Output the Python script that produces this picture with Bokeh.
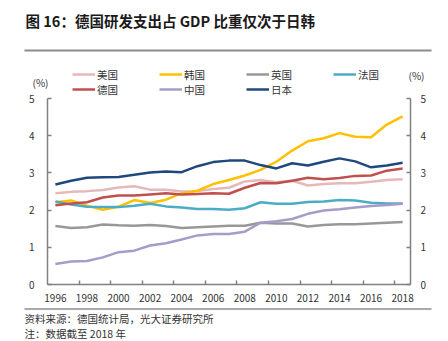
from bokeh.plotting import figure
from bokeh.models import (Range1d, LinearAxis, FixedTicker, Label, Legend, LegendItem,
                          BoxAnnotation, CustomJSTickFormatter)
from bokeh.embed import file_html
from bokeh.resources import INLINE

years = list(range(1996, 2019))
usa = [2.45, 2.49, 2.51, 2.54, 2.61, 2.64, 2.55, 2.55, 2.50, 2.51, 2.57, 2.60,
       2.77, 2.81, 2.75, 2.79, 2.66, 2.70, 2.72, 2.72, 2.76, 2.81, 2.83]
korea = [2.21, 2.26, 2.12, 2.01, 2.09, 2.27, 2.19, 2.28, 2.45, 2.52, 2.70, 2.81,
         2.93, 3.08, 3.30, 3.60, 3.85, 3.93, 4.07, 3.97, 3.96, 4.30, 4.52]
uk = [1.57, 1.52, 1.54, 1.61, 1.59, 1.58, 1.60, 1.57, 1.52, 1.54, 1.56, 1.58,
      1.58, 1.66, 1.64, 1.64, 1.56, 1.60, 1.62, 1.62, 1.64, 1.66, 1.68]
france = [2.23, 2.15, 2.09, 2.08, 2.08, 2.12, 2.17, 2.10, 2.07, 2.03, 2.03, 2.01,
          2.05, 2.21, 2.17, 2.17, 2.22, 2.23, 2.27, 2.26, 2.20, 2.18, 2.18]
germany = [2.13, 2.18, 2.21, 2.34, 2.39, 2.39, 2.42, 2.45, 2.42, 2.43, 2.45, 2.44,
           2.60, 2.73, 2.72, 2.79, 2.87, 2.83, 2.86, 2.92, 2.93, 3.06, 3.12]
china = [0.55, 0.62, 0.63, 0.73, 0.87, 0.91, 1.05, 1.11, 1.21, 1.32, 1.36, 1.36,
         1.42, 1.66, 1.70, 1.76, 1.90, 1.99, 2.02, 2.07, 2.11, 2.14, 2.17]
japan = [2.69, 2.79, 2.87, 2.88, 2.89, 2.95, 3.01, 3.04, 3.02, 3.18, 3.29, 3.33,
         3.33, 3.21, 3.12, 3.26, 3.20, 3.30, 3.39, 3.31, 3.15, 3.20, 3.27]

names = ["美国", "韩国", "英国", "法国", "德国", "中国", "日本"]
values = [usa, korea, uk, france, germany, china, japan]
colors = ["#E6B9B8", "#FFC000", "#989898", "#4BACC6", "#C0504D", "#A99BC9", "#1F497D"]

x_labels = [str(y) for y in range(1996, 2019, 2)]
y_ticks = [0, 1, 2, 3, 4, 5]

title_text = "图 16：德国研发支出占 GDP 比重仅次于日韩"
source_text = "资料来源：德国统计局，光大证券研究所"
note_text = "注：数据截至 2018 年"
unit_text = "(%)"

FONT = "Noto Sans CJK SC"
TXT = "#333333"
AX = "#808080"
W, H = 448, 341

# plot-area placement on the canvas (pixels)
PL, PR, PT, PB = 47, 410, 98, 284
x0, x1 = years[0] - 0.5, years[-1] + 0.5
y0, y1 = y_ticks[0], y_ticks[-1]
ppx = (PR - PL) / (x1 - x0)
ppy = (PB - PT) / (y1 - y0)

p = figure(width=W, height=H, output_backend="svg", toolbar_location=None,
           x_range=Range1d(x0 - PL / ppx, x1 + (W - PR) / ppx),
           y_range=Range1d(y0 - (H - PB) / ppy, y1 + PT / ppy),
           min_border=0, x_axis_location=None, y_axis_location=None)
p.outline_line_color = None
p.xgrid.visible = False
p.ygrid.visible = False
p.background_fill_color = "white"
p.border_fill_color = "white"

renderers = [p.line(years, vals, line_color=col, line_width=2.5)
             for vals, col in zip(values, colors)]


def style_axis(ax, standoff):
    ax.axis_line_color = AX
    ax.axis_line_width = 1.5
    ax.major_tick_line_color = AX
    ax.major_tick_line_width = 1.5
    ax.major_tick_in = 4
    ax.major_tick_out = 0
    ax.minor_tick_line_color = None
    ax.major_label_text_font = FONT
    ax.major_label_text_font_size = "10px"
    ax.major_label_text_color = TXT
    ax.major_label_standoff = standoff


ly = LinearAxis(ticker=FixedTicker(ticks=y_ticks), fixed_location=x0, bounds=(y0, y1))
style_axis(ly, 13)
p.add_layout(ly, "left")
ry = LinearAxis(ticker=FixedTicker(ticks=y_ticks), fixed_location=x1, bounds=(y0, y1))
style_axis(ry, 10)
p.add_layout(ry, "right")

xa = LinearAxis(ticker=FixedTicker(ticks=[int(s) for s in x_labels],
                                   minor_ticks=[y + 0.5 for y in range(1997, 2018, 2)]),
                fixed_location=y0, bounds=(x0, x1))
style_axis(xa, 9)
xa.major_tick_line_color = None
xa.minor_tick_line_color = AX
xa.minor_tick_line_width = 1.5
xa.minor_tick_in = 4
xa.minor_tick_out = 0
xa.formatter = CustomJSTickFormatter(code="return String(Math.round(tick));")
p.add_layout(xa, "below")


def lab(x, y, text, size="10px", bold=False, align="left"):
    p.add_layout(Label(x=x, y=H - y, x_units="screen", y_units="screen", text=text,
                       text_font=FONT, text_font_size=size,
                       text_color="#1a1a1a" if bold else TXT,
                       text_font_style="bold" if bold else "normal",
                       text_baseline="middle", text_align=align))


def rule(xa_, xb_, ya_, yb_, color):
    p.add_layout(BoxAnnotation(left=xa_, right=xb_, bottom=H - yb_, top=H - ya_,
                               left_units="screen", right_units="screen",
                               bottom_units="screen", top_units="screen",
                               fill_color=color, fill_alpha=1, line_color=None))


lab(25, 20, title_text, size="14.5px", bold=True)
rule(24, 431, 49, 51, "#8c8c8c")
lab(40, 82, unit_text, align="center")
lab(416, 75, unit_text, align="center")
rule(24, 431, 308, 309, "#555555")
lab(24, 318, source_text, size="10.5px")
lab(24, 333, note_text, size="10.5px")

legend = Legend(items=[LegendItem(label=n, renderers=[r]) for n, r in zip(names, renderers)],
                location=(72, H - 96.5), orientation="horizontal", ncols=4,
                padding=0, margin=0, spacing=0, glyph_width=23, glyph_height=12,
                label_height=12, label_width=62, label_standoff=2,
                label_text_font=FONT, label_text_font_size="10.5px", label_text_color=TXT,
                border_line_color=None, background_fill_alpha=0)
p.add_layout(legend, "center")

open("out.html", "w").write(file_html(p, INLINE))
